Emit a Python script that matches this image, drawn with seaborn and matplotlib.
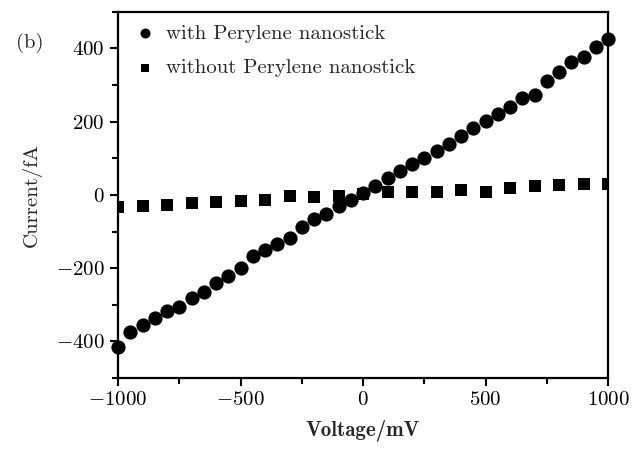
import numpy as np
import pandas as pd
import matplotlib
matplotlib.use("Agg")
import matplotlib.pyplot as plt
import seaborn as sns
from matplotlib.ticker import MultipleLocator

# Data
v_with = list(range(-1000, 1001, 50))
i_with = [-415, -375, -356, -337, -318, -305, -282, -264, -241, -222,
          -200, -167, -151, -134, -118, -88, -66, -52, -30, -14,
          5, 25, 47, 66, 85, 101, 120, 140, 162, 183,
          203, 222, 241, 266, 274, 310, 337, 364, 378, 403, 427]
v_without = list(range(-1000, 1001, 100))
i_without = [-33, -30, -27, -23, -20, -17, -13, -3, -5, -3,
             2, 8, 8, 8, 14, 8, 20, 25, 27, 29, 30]

label_with = "with Perylene nanostick"
label_without = "without Perylene nanostick"

sns.set_theme(style="white")
plt.rcParams['font.family'] = ['cmr10', 'DejaVu Serif']
plt.rcParams['mathtext.fontset'] = 'cm'
plt.rcParams['axes.formatter.use_mathtext'] = True

df_with = pd.DataFrame({"Voltage": v_with, "Current": i_with})
df_without = pd.DataFrame({"Voltage": v_without, "Current": i_without})

fig = plt.figure(figsize=(6.38, 4.55), dpi=100)
ax = fig.add_axes([0.185, 0.169, 0.768, 0.805])

sns.scatterplot(data=df_with, x="Voltage", y="Current", ax=ax, marker="o",
                s=105, color="black", edgecolor="black", linewidth=0,
                label=label_with, clip_on=False, zorder=3)
sns.scatterplot(data=df_without, x="Voltage", y="Current", ax=ax, marker="s",
                s=65, color="black", edgecolor="black", linewidth=0,
                label=label_without, clip_on=True, zorder=2)

ax.set_xlim(-1000, 1000)
ax.set_ylim(-500, 500)
ax.xaxis.set_major_locator(MultipleLocator(500))
ax.xaxis.set_minor_locator(MultipleLocator(250))
ax.yaxis.set_major_locator(MultipleLocator(200))
ax.yaxis.set_minor_locator(MultipleLocator(100))
ax.tick_params(which='both', direction='out', bottom=True, left=True,
               top=False, right=False, colors='black', labelsize=15)
ax.tick_params(which='major', length=6, width=1.5)
ax.tick_params(which='minor', length=4, width=1.5)
for sp in ax.spines.values():
    sp.set_linewidth(1.6)
    sp.set_color('black')

ax.set_xlabel("Voltage/mV", fontsize=15, family=['cmb10', 'DejaVu Serif'], labelpad=8)
ax.set_ylabel("Current/fA", fontsize=15, labelpad=10)

leg = ax.legend(loc='upper left', frameon=False, fontsize=15, handletextpad=0.3,
                borderaxespad=0.2, labelspacing=0.75, markerscale=0.7,
                handlelength=1.4, bbox_to_anchor=(0.0, 1.0))

fig.text(0.025, 0.905, "(b)", fontsize=15, ha='left', va='center')

fig.savefig("out.png", dpi=100)
